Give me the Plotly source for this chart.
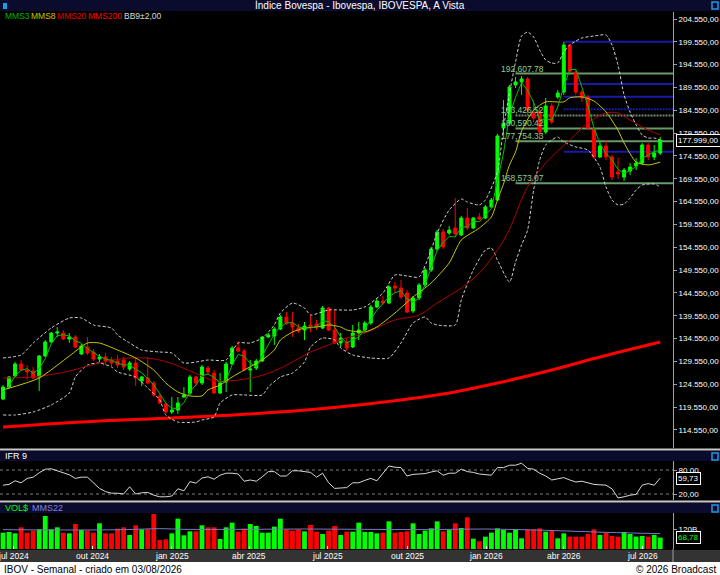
import pandas as pd
import plotly.graph_objects as go

W, H = 720, 575

# weekly candles, IBOV
dates = pd.date_range("2024-06-19", periods=110, freq="7D")

opens = [121330, 123960, 126370, 129000, 127680, 127460, 126150, 130750, 133810, 135780,
         135780, 134470, 134910, 131190, 132720, 131620, 130090, 130530, 129870, 129650,
         129870, 127900, 129210, 125270, 125930, 124830, 121990, 120240, 118480, 118920,
         121770, 122640, 126150, 124830, 128120, 127020, 122640, 125050, 129000, 132500,
         131840, 127680, 128120, 129650, 134910, 135130, 136660, 139290, 137970, 136880,
         136440, 137540, 137760, 136880, 141260, 136440, 133590, 133810, 132720, 135780,
         136440, 137970, 141480, 142790, 142350, 146080, 145640, 144540, 140600, 143450,
         146300, 149580, 154180, 157900, 157680, 158780, 157250, 160970, 158780, 161190,
         160970, 163380, 164910, 180680, 181770, 190100, 190750, 191410, 183960, 184180,
         179800, 185500, 187470, 188560, 198860, 192940, 188560, 187470, 180460, 174330,
         176740, 174330, 171040, 169950, 171260, 172360, 173010, 176960, 174330, 175200]
highs = [124400, 126370, 129430, 129870, 128780, 128340, 130970, 134250, 136000, 137100,
         136440, 135780, 135350, 133380, 134910, 132280, 131190, 131400, 130530, 130970,
         130530, 129650, 130530, 126370, 130530, 125270, 122430, 120670, 121770, 121770,
         123960, 126590, 126370, 128780, 128560, 127680, 127020, 129430, 132940, 134030,
         132280, 129870, 130090, 135130, 135780, 137100, 139730, 140380, 140380, 137760,
         138190, 139730, 138630, 141700, 141480, 140820, 135780, 134690, 137540, 138190,
         138410, 141920, 143230, 143890, 146300, 146950, 147390, 145200, 143890, 146730,
         150020, 154620, 158340, 158560, 159220, 165350, 161410, 163160, 161190, 162060,
         163820, 165350, 179370, 186810, 190100, 191850, 192070, 191850, 186810, 185060,
         187250, 186150, 189000, 199500, 199080, 193380, 189000, 187910, 180680, 177610,
         178050, 174770, 174110, 171920, 173010, 174110, 177390, 177390, 176960, 178710]
lows = [121110, 123740, 126150, 127460, 125490, 125710, 123080, 130530, 133590, 134910,
        134250, 133590, 132500, 130970, 130970, 129650, 129430, 128780, 128560, 128120,
        127680, 127460, 124180, 124180, 124620, 121770, 120240, 118260, 118050, 118050,
        121550, 122210, 124180, 124400, 126590, 122430, 122430, 122860, 128780, 131620,
        127460, 122860, 127680, 129430, 134690, 133160, 136440, 137540, 134910, 135780,
        134250, 136000, 136440, 136660, 136220, 133380, 132720, 131840, 132500, 134250,
        136220, 137540, 141260, 141920, 142140, 144540, 143230, 140160, 140160, 143010,
        145860, 149140, 153740, 154180, 157250, 157030, 157030, 158340, 158560, 160530,
        160750, 163160, 164690, 179580, 181340, 189440, 187910, 183530, 181990, 177830,
        179370, 181560, 187030, 187910, 192720, 187910, 186370, 180240, 173890, 174110,
        173670, 169290, 169510, 169070, 170390, 171480, 172580, 173670, 173670, 174770]
closes = [123960, 126150, 129000, 127680, 127240, 125930, 130750, 133810, 135780, 136000,
          134470, 134910, 132720, 132940, 131400, 130090, 130530, 129650, 129210, 128780,
          128340, 129210, 125930, 126150, 124830, 122210, 120450, 118480, 118920, 120450,
          122210, 126150, 124830, 128340, 127240, 122640, 124830, 129000, 132500, 131840,
          127680, 127900, 129650, 134910, 135350, 136660, 139290, 137970, 137100, 136220,
          137320, 137100, 137100, 141260, 136440, 133590, 134690, 132500, 135780, 136440,
          137970, 141480, 142790, 142350, 145860, 145640, 143670, 140380, 143450, 146300,
          149580, 154180, 157900, 154620, 158340, 157470, 160970, 158780, 160970, 160750,
          163380, 164910, 178930, 181770, 189660, 190750, 191410, 184620, 182870, 179800,
          185500, 181990, 188340, 198860, 193160, 188560, 187250, 180680, 174330, 176740,
          174330, 169950, 170610, 171480, 172140, 173010, 176960, 174330, 175200, 177999]

# volume in R$ billions
volume = [98, 102, 94, 130, 98, 110, 118, 198, 118, 130, 98, 94, 150, 114, 110, 98, 154, 94, 94, 122,
          130, 84, 142, 118, 118, 210, 54, 58, 94, 182, 82, 106, 106, 142, 130, 130, 60, 130, 158, 104,
          122, 150, 138, 98, 98, 134, 182, 118, 110, 118, 106, 144, 104, 90, 110, 138, 84, 104, 104, 158,
          102, 102, 94, 98, 166, 98, 102, 106, 154, 90, 110, 124, 166, 106, 114, 154, 126, 190, 62, 46,
          74, 98, 124, 114, 98, 118, 64, 118, 118, 124, 104, 110, 64, 94, 74, 74, 74, 90, 118, 84,
          98, 78, 74, 102, 90, 74, 78, 74, 84, 68.78]

ifr9 = [42, 44, 53, 48, 59, 62, 73, 82, 83, 78, 72, 68, 59, 62, 62, 47, 34, 26, 22, 22,
        20, 38, 20, 23, 24, 17, 13, 13, 15, 33, 28, 51, 47, 60, 63, 57, 67, 72, 72, 70,
        52, 55, 52, 63, 76, 76, 65, 65, 78, 78, 76, 74, 62, 72, 48, 34, 35, 36, 48, 48,
        54, 59, 53, 72, 90, 87, 86, 65, 69, 70, 71, 75, 78, 67, 72, 72, 82, 76, 74, 70,
        68, 67, 86, 86, 92, 92, 97, 84, 82, 72, 65, 55, 58, 61, 55, 50, 52, 48, 44, 43,
        42, 33, 10, 13, 17, 19, 42, 46, 42, 59.73]

mms3 = [122860, 124180, 126370, 127620, 127970, 126960, 127970, 130160, 133440, 135190,
        135410, 135130, 134030, 133530, 132350, 131470, 130680, 130090, 129800, 129210,
        128780, 128780, 127830, 127090, 125640, 124400, 122490, 120390, 119290, 119290,
        120520, 122930, 124400, 126430, 126800, 126080, 124900, 125490, 128780, 131120,
        130680, 129140, 128400, 130810, 133310, 135630, 137100, 137970, 138130, 137100,
        136880, 136880, 137160, 138480, 138260, 137100, 134910, 133590, 134320, 134910,
        136730, 138630, 140760, 142200, 143670, 144610, 145050, 143230, 142510, 143380,
        146450, 150020, 153900, 155560, 156960, 156810, 158930, 159070, 160250, 160170,
        161690, 163020, 169070, 175200, 183460, 187400, 190600, 188940, 186310, 182430,
        182720, 182430, 185280, 189720, 193450, 193530, 189660, 185500, 180750, 177240,
        175140, 173670, 171630, 170670, 171410, 172200, 174040, 174770, 175490, 175860]

mms8_idx = [0, 6, 11, 14, 16, 19, 22, 25, 27, 29, 31, 33, 34, 36, 38, 40, 43, 45, 46, 48,
            50, 52, 54, 56, 57, 60, 62, 65, 68, 71, 74, 76, 79, 81, 82, 83, 84, 85, 86, 88,
            90, 93, 94, 96, 98, 100, 102, 103, 105, 107, 109]
mms8_val = [123300, 125930, 130750, 133590, 133590, 132060, 130310, 127680, 124830, 122860,
            122000, 122000, 123300, 124400, 126150, 127680, 129870, 132060, 134250, 136000,
            136880, 137100, 137540, 137100, 136440, 136000, 137100, 140160, 143670, 146730,
            151130, 156150, 158780, 161190, 164900, 168400, 172600, 175400, 180000, 184600,
            186400, 186400, 187300, 187500, 186600, 184200, 180200, 177400, 173200, 172600, 173200]

mms20_idx = [0, 5, 11, 16, 21, 26, 33, 35, 39, 42, 45, 48, 51, 54, 57, 60, 65, 69, 72, 76,
             79, 82, 84, 87, 90, 94, 97, 100, 102, 104, 107, 109]
mms20_val = [125930, 126150, 127460, 129210, 130310, 129870, 126370, 125270, 125490, 126150,
             127460, 129430, 131620, 133160, 134690, 135780, 138630, 139730, 142350, 145640,
             148920, 153960, 158560, 167760, 173010, 178050, 181770, 183960, 183960, 182430,
             180240, 179150]

mms200_idx = [0, 16, 28, 41, 54, 66, 74, 82, 91, 99, 109]
mms200_val = [115200, 116510, 117170, 118050, 119360, 121110, 122640, 124830, 127680, 130530, 133810]

bb_up_idx = [0, 3, 5, 8, 11, 13, 15, 18, 19, 21, 23, 26, 28, 30, 32, 34, 37, 39, 41, 43,
             45, 46, 48, 50, 51, 54, 58, 60, 63, 65, 67, 69, 71, 72, 74, 76, 77, 79, 80, 82,
             83, 84, 85, 86, 87, 88, 89, 90, 91, 92, 93, 94, 96, 98, 100, 101, 102, 103, 104, 105,
             106, 107, 108, 109]
bb_up_val = [130310, 130970, 133590, 136880, 139070, 139070, 137540, 136880, 135350, 133590,
             132060, 131620, 131400, 129210, 129430, 129870, 129870, 133590, 133590, 134690,
             137540, 140160, 142350, 141260, 139730, 140820, 140820, 141480, 144540, 148490,
             148270, 148050, 153960, 157680, 162720, 165130, 164470, 163820, 164910, 171040,
             180680, 188340, 195130, 200830, 201700, 200610, 197760, 195570, 194910, 194910,
             197320, 198860, 200390, 200830, 201050, 198860, 194460, 187910, 184180, 181340,
             179150, 178490, 178490, 178050]

bb_lo_idx = [0, 2, 5, 8, 11, 12, 14, 16, 18, 19, 22, 24, 26, 27, 29, 32, 33, 35, 36, 38,
             40, 43, 44, 46, 48, 50, 51, 53, 55, 56, 58, 61, 64, 66, 68, 70, 71, 72, 75, 76,
             78, 80, 81, 82, 84, 85, 86, 87, 88, 89, 90, 91, 92, 93, 95, 97, 99, 100, 101, 102,
             103, 104, 105, 106, 108, 109]
bb_lo_val = [117830, 117830, 118480, 120020, 122640, 126150, 128780, 129210, 128340, 127240,
             126150, 123740, 121110, 117830, 116290, 116290, 116730, 117390, 120450, 122210,
             122210, 122210, 123960, 126150, 127020, 129430, 132720, 134690, 134250, 132500,
             130970, 130310, 130310, 133590, 137970, 139290, 137970, 137540, 137540, 143010,
             149580, 153960, 154400, 151770, 146950, 151330, 155060, 158340, 167100, 173670,
             176960, 178050, 178710, 177610, 176520, 175860, 172140, 167760, 164910, 163820,
             164040, 165350, 167100, 168200, 168420, 167760]

vol_ma_idx = [0, 10, 20, 26, 30, 40, 50, 60, 70, 80, 90, 100, 109]
vol_ma_val = [116, 114, 116, 122, 118, 118, 120, 118, 116, 120, 112, 100, 92]

fib_levels = [192607.78, 183426.52, 180590.42, 177754.33, 168573.07]
blue_levels = [199579, 190315, 187534, 184774, 175489]
price_ticks = list(range(114550, 204551, 5000))
month_ticks = ["2024-07-01", "2024-10-01", "2025-01-01", "2025-04-01", "2025-07-01",
               "2025-10-01", "2026-01-01", "2026-04-01", "2026-07-01"]
month_labels = ["jul 2024", "out 2024", "jan 2025", "abr 2025", "jul 2025",
                "out 2025", "jan 2026", "abr 2026", "jul 2026"]


def br(v):
    return f"{v:,.2f}".replace(",", "X").replace(".", ",").replace("X", ".")


def py(y):
    return 1 - y / H


def px(x):
    return x / W


FONT = "Liberation Sans Narrow, Liberation Sans, Arial"
x_left = dates[0] - pd.Timedelta(days=3.5)
x_right = dates[-1] + pd.Timedelta(days=14.8)

fig = go.Figure()

fig.add_trace(go.Candlestick(
    x=dates, open=opens, high=highs, low=lows, close=closes,
    increasing=dict(line=dict(color="#00ff00", width=1), fillcolor="#00ff00"),
    decreasing=dict(line=dict(color="#ff0000", width=1), fillcolor="#ff0000"),
    whiskerwidth=0, showlegend=False, hoverinfo="skip"))

fig.add_trace(go.Scatter(x=dates[mms200_idx], y=mms200_val, mode="lines",
                         line=dict(color="#ff0000", width=3, shape="spline"), hoverinfo="skip"))
fig.add_trace(go.Scatter(x=dates[bb_up_idx], y=bb_up_val, mode="lines",
                         line=dict(color="#d0d0d0", width=1, dash="3px,2px", shape="spline", smoothing=0.6),
                         hoverinfo="skip"))
fig.add_trace(go.Scatter(x=dates[bb_lo_idx], y=bb_lo_val, mode="lines",
                         line=dict(color="#d0d0d0", width=1, dash="3px,2px", shape="spline", smoothing=0.6),
                         hoverinfo="skip"))
fig.add_trace(go.Scatter(x=dates[mms20_idx], y=mms20_val, mode="lines",
                         line=dict(color="#b00000", width=1, shape="spline"), hoverinfo="skip"))
fig.add_trace(go.Scatter(x=dates[mms8_idx], y=mms8_val, mode="lines",
                         line=dict(color="#c8c800", width=1, shape="spline", smoothing=0.6), hoverinfo="skip"))
fig.add_trace(go.Scatter(x=dates, y=mms3, mode="lines",
                         line=dict(color="#00c000", width=1), hoverinfo="skip"))

# IFR 9
fig.add_trace(go.Scatter(x=dates, y=ifr9, mode="lines", yaxis="y2",
                         line=dict(color="#d8d8d8", width=1), hoverinfo="skip"))

# volume
vol_colors = ["#00ff00" if c >= o else "#ff0000" for o, c in zip(opens, closes)]
fig.add_trace(go.Bar(x=dates, y=volume, yaxis="y3", marker=dict(color=vol_colors, line=dict(width=0)),
                     width=0.8 * 7 * 86400000, hoverinfo="skip"))
fig.add_trace(go.Scatter(x=dates[vol_ma_idx], y=vol_ma_val, mode="lines", yaxis="y3",
                         line=dict(color="#7a7ac8", width=1, shape="spline"), hoverinfo="skip"))

shapes = []
# panel chrome (nothing is drawn underneath these, so they can sit on top)
for y0, y1, col in [(0, 11, "#0b0b2d"), (451, 461, "#0b0b2d"), (503, 513, "#0b0b2d"),
                    (550, 562, "#333333"), (562, 575, "#ffffff")]:
    shapes.append(dict(type="rect", xref="paper", yref="paper", x0=0, x1=1, y0=py(y1), y1=py(y0),
                       fillcolor=col, line=dict(width=0), layer="above"))
for yy in (449.5, 501.5):
    shapes.append(dict(type="line", xref="paper", yref="paper", x0=0, x1=1, y0=py(yy), y1=py(yy),
                       line=dict(color="#c8c8c8", width=2), layer="above"))
for yy in (2, 453, 505):
    shapes.append(dict(type="rect", xref="paper", yref="paper", x0=px(712), x1=px(718),
                       y0=py(yy + 7), y1=py(yy), line=dict(color="#1e9be6", width=1.5),
                       fillcolor="#0b0b2d", layer="above"))
shapes.append(dict(type="rect", xref="paper", yref="paper", x0=px(3), x1=px(7), y0=py(9), y1=py(3),
                   fillcolor="#1e9be6", line=dict(width=0), layer="above"))
shapes.append(dict(type="line", xref="paper", yref="paper", x0=px(673), x1=px(673), y0=py(549), y1=py(562),
                   line=dict(color="#a0a0a0", width=1), layer="above"))

# IFR guide levels
for lv in (80, 20):
    shapes.append(dict(type="line", xref="paper", yref="y2", x0=0, x1=px(673), y0=lv, y1=lv,
                       line=dict(color="#808080", width=1, dash="3px,3px"), layer="below"))

# fibonacci levels and blue support/resistance lines
for i, lv in enumerate(fib_levels):
    shapes.append(dict(type="line", xref="x", yref="y", x0=dates[85], x1=x_right, y0=lv, y1=lv,
                       line=dict(color="#6a9a6a" if i != 1 else "#708870", width=2,
                                 dash="solid" if i != 1 else "2px,1px"), layer="below"))
for i, lv in enumerate(blue_levels):
    shapes.append(dict(type="line", xref="x", yref="y", x0=dates[93], x1=x_right, y0=lv, y1=lv,
                       line=dict(color="#1a1aa8", width=2, dash="solid" if i != 3 else "2px,1px"),
                       layer="below"))

ann = []


def label(text, x, y, col, size=8, anchor="left", family=FONT):
    ann.append(dict(text=text, x=px(x), y=py(y), xref="paper", yref="paper", xanchor=anchor,
                    yanchor="middle", showarrow=False, font=dict(color=col, size=size, family=family)))


label("Índice Bovespa - Ibovespa, IBOVESPA, A Vista", 360, 5.5, "#ffffff", 10, "center", "Liberation Sans")
for txt, xx, col in [("MMS3", 3, "#00b400"), ("MMS8", 29, "#c8c800"), ("MMS20", 55, "#e00000"),
                     ("MMS200", 86, "#ff0000"), ("BB9±2,00", 122, "#d8d8d8")]:
    label(txt, xx, 15.5, col, 8.5)
label("IFR 9", 3, 456, "#ffffff", 9)
label("VOL$", 3, 508, "#00ff00", 9)
label("MMS22", 30, 508, "#8080e0", 9)
label("IBOV - Semanal - criado em 03/08/2026", 2, 569, "#000000", 10, "left", "Liberation Sans")
label("© 2026 Broadcast", 718, 569, "#000000", 10, "right", "Liberation Sans")

for d, t in zip(month_ticks, month_labels):
    ann.append(dict(text=t, x=d, y=py(556), xref="x", yref="paper", xanchor="center", yanchor="middle",
                    showarrow=False, font=dict(color="#ffffff", size=8.5, family=FONT)))

for lv in fib_levels:
    ann.append(dict(text=f"{lv:,.2f}", x=dates[82] + pd.Timedelta(days=2), y=lv, xref="x", yref="y",
                    xanchor="left", yanchor="middle", yshift=5, showarrow=False,
                    font=dict(color="#8fcf8f", size=8.5, family=FONT)))
# last value boxes
for val, txt, yr, col in [(closes[-1], br(closes[-1]), "y", "#ffffff"),
                          (ifr9[-1], br(ifr9[-1]), "y2", "#ffffff"),
                          (volume[-1], br(volume[-1]), "y3", "#00ff00")]:
    ann.append(dict(text=txt, x=px(676), y=val, xref="paper", yref=yr, xanchor="left", yanchor="middle",
                    showarrow=False, bgcolor="#000000", bordercolor="#ffffff", borderwidth=1, borderpad=1,
                    font=dict(color=col, size=8, family=FONT)))

axis_font = dict(color="#ffffff", size=8, family=FONT)
yaxis_common = dict(side="right", anchor="x", tickfont=axis_font, ticks="outside", ticklen=3,
                    tickcolor="#a0a0a0", showline=True, linecolor="#a0a0a0", linewidth=1,
                    showgrid=False, zeroline=False)
fig.update_layout(
    width=W, height=H, margin=dict(l=0, r=0, t=0, b=0),
    paper_bgcolor="#000000", plot_bgcolor="#000000",
    showlegend=False, shapes=shapes, annotations=ann,
    xaxis=dict(domain=[0, px(673)], range=[x_left, x_right], anchor="y3", type="date",
               rangeslider=dict(visible=False), showgrid=False, zeroline=False,
               tickvals=month_ticks, showticklabels=False,
               ticks="inside", ticklen=3, tickcolor="#ffffff", showline=False),
    yaxis=dict(domain=[py(448), py(12)], range=[110599, 206083],
               tickvals=price_ticks, ticktext=[br(v) for v in price_ticks], **yaxis_common),
    yaxis2=dict(domain=[py(500), py(461)], range=[5, 102.5],
                tickvals=[20, 80], ticktext=["20,00", "80,00"], **yaxis_common),
    yaxis3=dict(domain=[py(549), py(513)], range=[0, 216],
                tickvals=[120], ticktext=["120B"], **yaxis_common),
)

fig.write_html("out.html", config={"displayModeBar": False},
               post_script="document.body.style.margin='0';document.body.style.overflow='hidden';")
